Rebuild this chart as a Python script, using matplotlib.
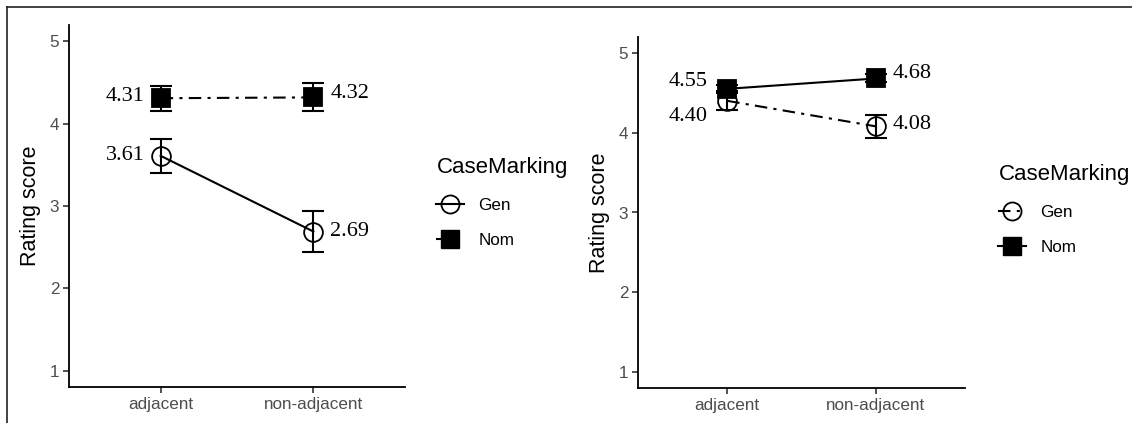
import numpy as np
import matplotlib
matplotlib.use('Agg')
import matplotlib.pyplot as plt
from matplotlib.lines import Line2D

# categories and values
conditions = ['adjacent', 'non-adjacent']
case_levels = ['Gen', 'Nom']

# left panel
left_gen = [3.61, 2.69]
left_gen_err = [0.21, 0.25]
left_nom = [4.31, 4.32]
left_nom_err = [0.15, 0.17]

# right panel
right_gen = [4.40, 4.08]
right_gen_err = [0.12, 0.14]
right_nom = [4.55, 4.68]
right_nom_err = [0.05, 0.05]

yticks = [1, 2, 3, 4, 5]

SERIF = 'Liberation Serif'
SANS = 'Liberation Sans'
GREY = '#4D4D4D'

fig = plt.figure(figsize=(11.32, 4.23), dpi=100)


def panel(rect, gen, gen_err, nom, nom_err, gen_ls, nom_ls, nudges, xoff, leg_xy):
    ax = fig.add_axes(rect)
    x = np.arange(len(conditions)) + 1
    series = [(gen, gen_err, 'o', gen_ls, 13.5),
              (nom, nom_err, 's', nom_ls, 13)]
    for vals, err, mk, ls, ms in series:
        ax.errorbar(x, vals, yerr=err, fmt='none', ecolor='black',
                    elinewidth=1.5, capsize=8, capthick=1.5, zorder=2)
        ax.plot(x, vals, color='black', lw=1.5, ls=ls, zorder=3)
        ax.plot(x, vals, ls='none', marker=mk, ms=ms, mec='black', mew=1.3,
                mfc='none' if mk == 'o' else 'black', zorder=4)
    # value labels
    labels = [gen, nom]
    for si, vals in enumerate(labels):
        for ci, v in enumerate(vals):
            dy = nudges[si][ci]
            if ci == 0:
                ax.annotate(f'{v:.2f}', (x[ci], v), xytext=(-xoff[0], dy),
                            textcoords='offset points', ha='right',
                            va='center', fontsize=16, family=SERIF)
            else:
                ax.annotate(f'{v:.2f}', (x[ci], v), xytext=(xoff[1], dy),
                            textcoords='offset points', ha='left',
                            va='center', fontsize=16, family=SERIF)
    ax.set_xlim(0.4, 2.6)
    ax.set_ylim(0.8, 5.2)
    ax.set_xticks(x)
    ax.set_xticklabels(conditions, family=SANS, fontsize=12.3, color=GREY)
    ax.set_yticks(yticks)
    ax.set_yticklabels([str(t) for t in yticks], family=SANS, fontsize=12.3,
                       color=GREY)
    ax.set_ylabel('Rating score', family=SANS, fontsize=15.5, labelpad=6)
    for s in ['top', 'right']:
        ax.spines[s].set_visible(False)
    for s in ['left', 'bottom']:
        ax.spines[s].set_linewidth(1.3)
    ax.tick_params(length=4, width=1.2, color='#333333', pad=3)

    handles = [
        Line2D([], [], color='black', lw=1.5, ls=gen_ls, marker='o', ms=13,
               mfc='none', mec='black', mew=1.3),
        Line2D([], [], color='black', lw=1.5, ls=nom_ls, marker='s', ms=13,
               mfc='black', mec='black'),
    ]
    leg = ax.legend(handles, case_levels, title='CaseMarking', frameon=False,
                    loc='upper left', bbox_to_anchor=leg_xy,
                    bbox_transform=fig.transFigure, handlelength=1.6,
                    handletextpad=0.85, labelspacing=1.15,
                    prop={'family': SANS, 'size': 12.3},
                    title_fontproperties={'family': SANS, 'size': 16})
    leg._legend_box.align = 'left'
    return ax


panel([69 / 1132, 36 / 423, 336 / 1132, 362 / 423],
      left_gen, left_gen_err, left_nom, left_nom_err, '-', (0, (6, 3, 1.5, 3)),
      [[0, 0], [1, 3]], (11.5, 12.3), (421 / 1132, 1 - 142 / 423))

panel([638 / 1132, 35 / 423, 327 / 1132, 351 / 423],
      right_gen, right_gen_err, right_nom, right_nom_err,
      (0, (6, 3, 1.5, 3)), '-',
      [[-11, 1], [5, 3.3]], (14, 12.3), (983 / 1132, 1 - 149 / 423))

# outer frame lines (top and left)
fig.add_artist(Line2D([7 / 1132, 1], [1 - 7 / 423, 1 - 7 / 423],
                      transform=fig.transFigure, color='#222222', lw=1.2))
fig.add_artist(Line2D([7 / 1132, 7 / 1132], [0, 1 - 7 / 423],
                      transform=fig.transFigure, color='#222222', lw=1.2))

fig.savefig('out.png', dpi=100)
